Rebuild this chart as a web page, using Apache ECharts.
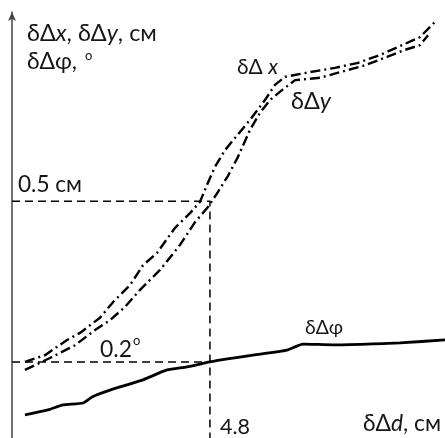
<!DOCTYPE html>
<html><head><meta charset="utf-8">
<script src="https://cdn.jsdelivr.net/npm/echarts@6/dist/echarts.min.js"></script>
<style>html,body{margin:0;padding:0;background:#fff}#c{width:445px;height:438px}</style>
</head><body><div id="c"></div>
<script>
// δΔd (arbitrary units so that 4.8 is the marked value)
const dxD = [0.315,0.800,1.334,1.649,2.134,2.449,2.861,3.177,3.516,3.953,4.316,4.559,4.729,4.923,5.165,5.408,5.771,6.135,6.377,6.620,7.226,7.832,8.366,8.924,9.409,9.894,10.257];
const dxVal = [0.161,0.175,0.207,0.222,0.254,0.287,0.323,0.365,0.391,0.444,0.475,0.499,0.535,0.573,0.608,0.634,0.672,0.714,0.746,0.763,0.773,0.782,0.792,0.809,0.828,0.847,0.879];
const dyD = [0.315,0.921,1.528,2.013,2.376,2.740,3.104,3.589,4.074,4.438,4.753,4.995,5.238,5.480,5.771,6.014,6.256,6.547,6.863,7.469,7.954,8.511,9.093,9.530,9.894,10.088];
const dyVal = [0.144,0.169,0.196,0.228,0.249,0.277,0.313,0.355,0.408,0.456,0.488,0.520,0.554,0.594,0.651,0.687,0.714,0.735,0.756,0.761,0.773,0.786,0.805,0.820,0.830,0.851];
const phiD = [0.315,0.873,1.237,1.722,1.940,2.376,3.177,3.759,4.244,4.8,5.359,5.844,6.669,7.057,7.784,8.608,9.409,10.5];
const phiVal = [0.061,0.074,0.087,0.092,0.108,0.126,0.153,0.179,0.187,0.200,0.210,0.218,0.231,0.247,0.245,0.247,0.250,0.258];
const markD = 4.8;     // δΔd marked
const markCm = 0.5;    // cm level
const markDeg = 0.2;   // degree level
const markCmLabel = '0.5 см';
const markDegLabel = '0.2';
const markDLabel = '4.8';

const zip = (a,b)=>a.map((v,i)=>[v,b[i]]);
const chart = echarts.init(document.getElementById('c'), null, {renderer:'canvas'});
const FONT = 'Lato, "Open Sans", sans-serif';
const TC = '#161616';
const dashDot = {color:'#000', width:2.4, type:[10,4,2,4]};

// text layout: [text, italic] segments, left x, baseline y, target width
const labels = [
  {segs:[['δΔ',0],['x',1],[', δΔ',0],['y',1],[', см',0]], x:27, base:42, w:130},
  {segs:[['δΔφ,',0]], x:27, base:70, w:50},
  {segs:[['δΔ ',0],['x',1]], x:237, base:75, w:41},
  {segs:[['δΔ',0],['y',1]], x:291, base:110, w:40},
  {segs:[[markCmLabel,0]], x:18, base:193, w:64},
  {segs:[[markDegLabel,0]], x:100, base:358, w:32},
  {segs:[['δΔφ',0]], x:305, base:335, w:38},
  {segs:[[markDLabel,0]], x:220, base:435, w:30},
  {segs:[['δΔ',0],['d',1],[', см',0]], x:363, base:432, w:78}
];
const degMarks = [{x:85, cy:56}, {x:133, cy:341}];

const ctx = document.createElement('canvas').getContext('2d');
function widthAt(segs, size){
  let w = 0;
  segs.forEach(([t,it])=>{ ctx.font = (it?'italic ':'') + size + 'px ' + FONT; w += ctx.measureText(t).width; });
  return w;
}
const graphics = labels.map(L=>{
  const size = Math.round(100 * L.w / widthAt(L.segs,100) * 10) / 10;
  const text = L.segs.map(([t,it])=>'{' + (it?'i':'a') + '|' + t + '}').join('');
  return {type:'text', x:L.x, y:L.base - 0.36*size, style:{text, align:'left', verticalAlign:'middle',
    rich:{a:{fontFamily:FONT,fontSize:size,fill:TC}, i:{fontFamily:FONT,fontSize:size,fontStyle:'italic',fill:TC}}}};
});
degMarks.forEach(d=>graphics.push({type:'text', x:d.x, y:d.cy, style:{text:'o', font:'13px '+FONT, fill:TC, align:'left', verticalAlign:'middle'}}));

chart.setOption({
  animation:false,
  backgroundColor:'#fff',
  grid:{left:12, right:0, top:12, bottom:0, containLabel:false},
  xAxis:{type:'value', min:0, max:10.5, show:false},
  yAxis:[
    {type:'value', min:0, max:0.9, position:'left',
     axisLine:{show:true, lineStyle:{color:'#444', width:1.5}, symbol:['none','arrow'], symbolSize:[6,9]},
     axisTick:{show:false}, axisLabel:{show:false}, splitLine:{show:false}},
    {type:'value', min:0, max:1.12, show:false}
  ],
  series:[
    {type:'line', yAxisIndex:0, data:[[0,markCm],[markD,markCm],[markD,0]], symbol:'none',
     lineStyle:{color:'#000', width:1.5, type:[8,5]}},
    {type:'line', yAxisIndex:1, data:[[0,markDeg],[markD,markDeg]], symbol:'none',
     lineStyle:{color:'#000', width:1.5, type:[8,5]}},
    {type:'line', name:'δΔx', yAxisIndex:0, data:zip(dxD,dxVal), symbol:'none', lineStyle:dashDot},
    {type:'line', name:'δΔy', yAxisIndex:0, data:zip(dyD,dyVal), symbol:'none', lineStyle:dashDot},
    {type:'line', name:'δΔφ', yAxisIndex:1, data:zip(phiD,phiVal), symbol:'none', smooth:0.2,
     lineStyle:{color:'#000', width:2.8}}
  ],
  graphic:graphics
});
</script></body></html>
